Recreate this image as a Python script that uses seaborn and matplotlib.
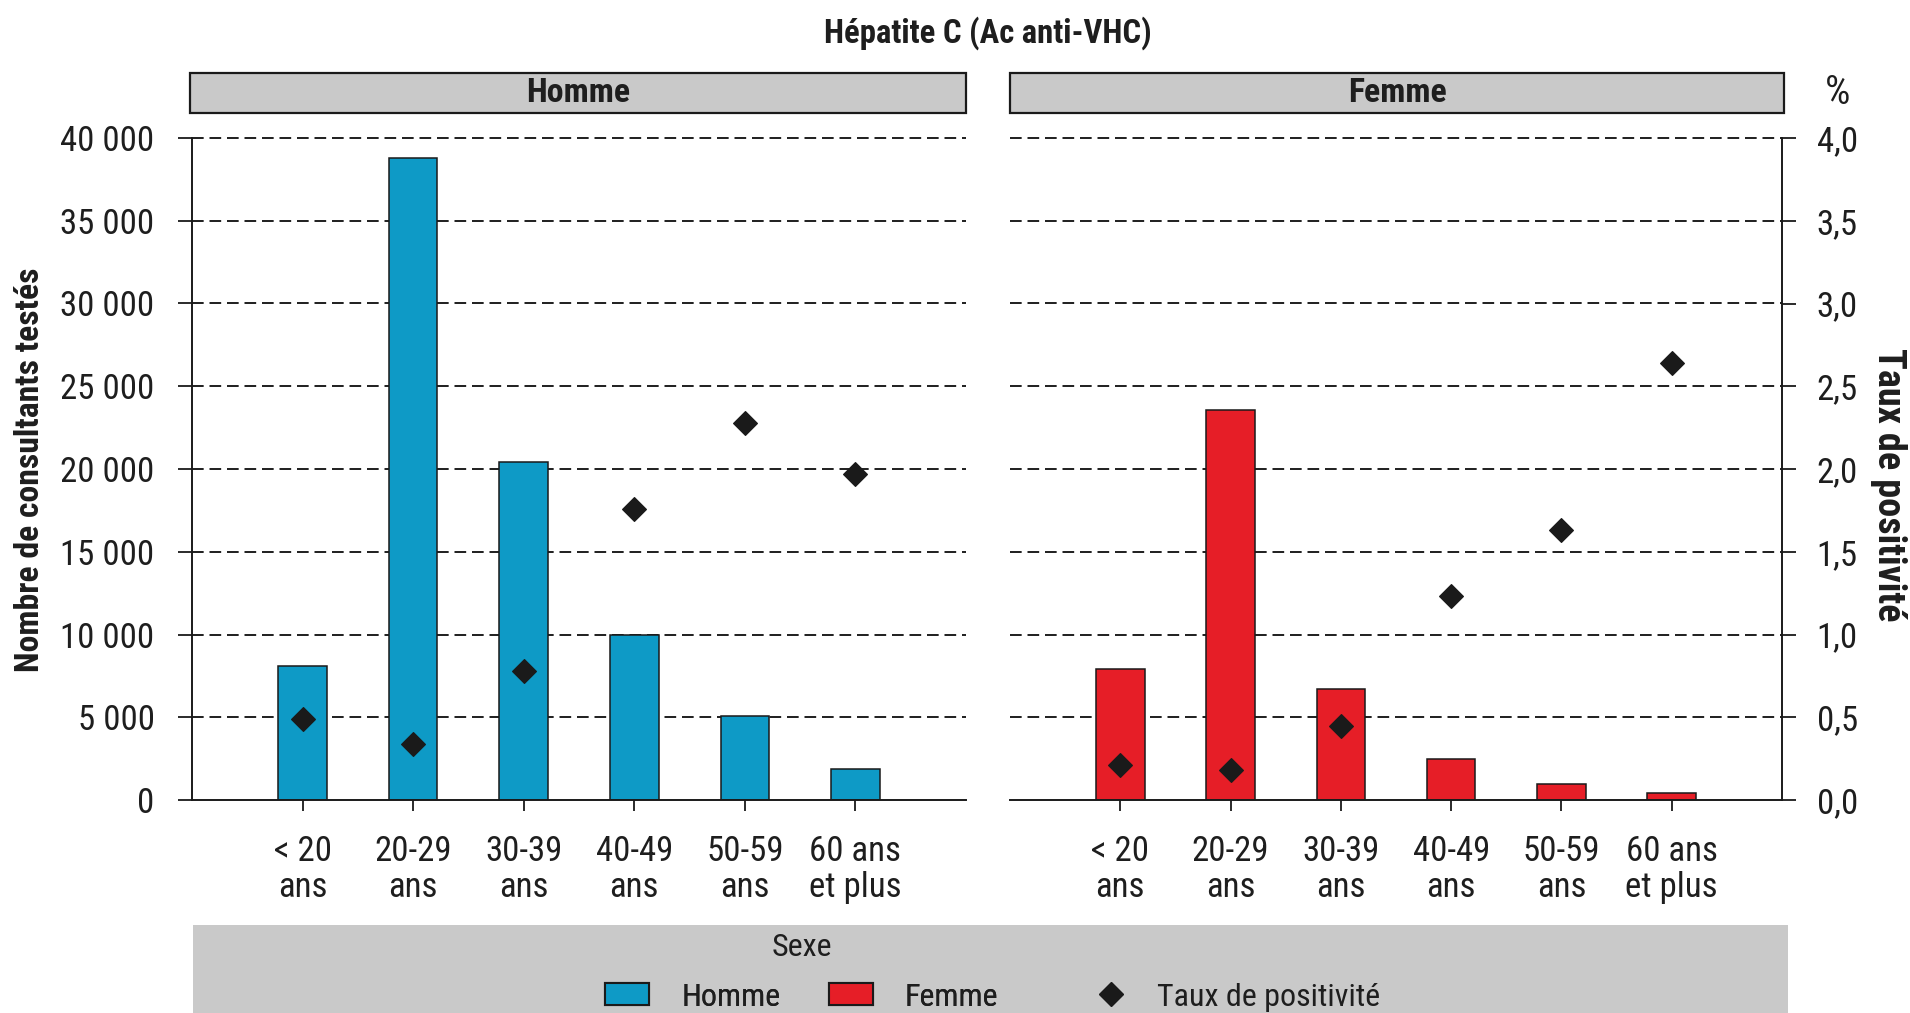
import numpy as np
import pandas as pd
import matplotlib
matplotlib.use("Agg")
import matplotlib.pyplot as plt
import seaborn as sns
from matplotlib.patches import Patch, Rectangle
from matplotlib.lines import Line2D
from matplotlib.ticker import FuncFormatter, FixedLocator

# ---------------- data ----------------
age_labels = ["< 20\nans", "20-29\nans", "30-39\nans", "40-49\nans", "50-59\nans", "60 ans\net plus"]
homme_tests = [8100, 38800, 20400, 9950, 5050, 1900]
homme_taux = [0.49, 0.34, 0.78, 1.76, 2.28, 1.97]
femme_tests = [7940, 23580, 6690, 2500, 940, 450]
femme_taux = [0.21, 0.18, 0.45, 1.23, 1.63, 2.64]
sexes = ["Homme", "Femme"]
left_ticks = [0, 5000, 10000, 15000, 20000, 25000, 30000, 35000, 40000]
right_ticks = [0.0, 0.5, 1.0, 1.5, 2.0, 2.5, 3.0, 3.5, 4.0]

title = "Hépatite C (Ac anti-VHC)"
ylabel_left = "Nombre de consultants testés"
ylabel_right = "Taux de positivité"
legend_title = "Sexe"
legend_labels = ["Homme", "Femme", "Taux de positivité"]

df = pd.DataFrame({
    "sexe": [sexes[0]] * 6 + [sexes[1]] * 6,
    "age": age_labels * 2,
    "tests": homme_tests + femme_tests,
    "taux": homme_taux + femme_taux,
})

# ---------------- style ----------------
sns.set_theme(style="white")
plt.rcParams["font.family"] = ["Roboto Condensed", "DejaVu Sans"]
plt.rcParams["font.stretch"] = "condensed"
TXT = "#1e1e1e"
BLUE = "#0e9ac6"
RED = "#e61e27"
EDGE = "#1a1a1a"
GRAY = "#c9c9c9"
FS = 23
FS_TICK = 25

W, H = 1910, 1013
fig = plt.figure(figsize=(W / 100, H / 100), dpi=100)
fig.patch.set_facecolor("white")


def fx(px):
    return px / W


def fy(py):
    return 1 - py / H


ax_top, ax_bot = 138, 800
panels = [
    (sexes[0], BLUE, 192, 966, "left"),
    (sexes[1], RED, 1010, 1782, "right"),
]

fmt_left = FuncFormatter(lambda v, p: f"{int(round(v)):,}".replace(",", " "))
fmt_right = FuncFormatter(lambda v, p: f"{v:.1f}".replace(".", ","))

for sexe, color, x0, x1, side in panels:
    sub = df[df["sexe"] == sexe]
    ax = fig.add_axes([fx(x0), fy(ax_bot), fx(x1 - x0), (ax_bot - ax_top) / H])
    ax.set_facecolor("white")
    sns.barplot(data=sub, x="age", y="tests", color=color, saturation=1,
                width=0.44, edgecolor=EDGE, linewidth=1.1, ax=ax, zorder=2)
    ax.set_ylim(0, 40000)
    for yv in left_ticks[1:]:
        ax.axhline(yv, color=TXT, lw=1.4, ls=(0, (6, 3)), zorder=0.5, clip_on=False)

    ax2 = ax.twinx()
    sns.pointplot(data=sub, x="age", y="taux", color=EDGE, marker="D",
                  markersize=12.5, markeredgewidth=0.8, linestyle="none",
                  errorbar=None, ax=ax2)
    ax2.set_ylim(0, 4)
    ax.set_xlim(-1, 6)
    ax.set_xlabel("")
    ax.set_ylabel("")
    ax2.set_ylabel("")

    for a in (ax, ax2):
        for s in a.spines.values():
            s.set_visible(False)
    ax.spines["bottom"].set_visible(True)
    ax.spines["bottom"].set_color(EDGE)
    ax.spines["bottom"].set_linewidth(1.4)

    ax.set_xticks(range(len(age_labels)))
    ax.set_xticklabels(age_labels)
    ax.tick_params(axis="x", bottom=True, direction="out", length=8, width=1.3,
                   color=EDGE, pad=17, labelsize=FS_TICK, labelcolor=TXT)
    for t in ax.get_xticklabels():
        t.set_linespacing(1.12)

    if side == "left":
        ax.spines["left"].set_visible(True)
        ax.spines["left"].set_color(EDGE)
        ax.spines["left"].set_linewidth(1.4)
        ax.yaxis.set_major_locator(FixedLocator(left_ticks))
        ax.yaxis.set_major_formatter(fmt_left)
        ax.tick_params(axis="y", left=True, direction="out", length=10, width=1.3,
                       color=EDGE, pad=17, labelsize=FS_TICK, labelcolor=TXT)
        ax2.tick_params(axis="y", right=False, labelright=False)
    else:
        ax.tick_params(axis="y", left=False, labelleft=False)
        ax2.spines["right"].set_visible(True)
        ax2.spines["right"].set_color(EDGE)
        ax2.spines["right"].set_linewidth(1.4)
        ax2.yaxis.set_major_locator(FixedLocator(right_ticks))
        ax2.yaxis.set_major_formatter(fmt_right)
        ax2.tick_params(axis="y", right=True, direction="out", length=10, width=1.3,
                        color=EDGE, pad=15, labelsize=FS_TICK, labelcolor=TXT)

    # facet strip
    sx0 = x0 - 2 if side == "left" else x0
    sx1 = x1 if side == "left" else x1 + 2
    fig.patches.append(Rectangle((fx(sx0), fy(113)), fx(sx1 - sx0), 40 / H,
                                 transform=fig.transFigure, facecolor=GRAY,
                                 edgecolor=EDGE, linewidth=1.6, zorder=1))
    fig.text(fx((sx0 + sx1) / 2), fy(93), sexe, ha="center", va="center",
             fontsize=24.4, fontweight="bold", color=TXT)

# title and axis labels
fig.text(fx(988), fy(33), title, ha="center", va="center", fontsize=23.6,
         fontweight="bold", color=TXT)
fig.text(fx(30), fy(470), ylabel_left, rotation=90, ha="center", va="center",
         fontsize=24.3, fontweight="bold", color=TXT)
fig.text(fx(1888), fy(485), ylabel_right, rotation=270, ha="center", va="center",
         fontsize=27.5, fontweight="bold", color=TXT)
fig.text(fx(1838), fy(92), "%", ha="center", va="center", fontsize=29, color=TXT)

# legend panel
fig.patches.append(Rectangle((fx(193), 0), fx(1788 - 193), fy(925),
                             transform=fig.transFigure, facecolor=GRAY,
                             edgecolor="none", zorder=0))
fig.text(fx(802), fy(947), legend_title, ha="center", va="center", fontsize=FS, color=TXT)

h_patches = [Patch(facecolor=BLUE, edgecolor=EDGE, linewidth=1.5),
             Patch(facecolor=RED, edgecolor=EDGE, linewidth=1.5)]
h_dia = [Line2D([0], [0], marker="D", color=EDGE, linestyle="none", markersize=12.5)]
leg1 = fig.legend(h_patches, legend_labels[:2], loc="center left",
                  bbox_to_anchor=(fx(605), fy(997)), ncol=2, frameon=False,
                  fontsize=FS, handlelength=1.38, handleheight=0.68,
                  handletextpad=1.0, columnspacing=1.52, borderpad=0,
                  borderaxespad=0, labelcolor=TXT)
leg2 = fig.legend(h_dia, legend_labels[2:], loc="center left",
                  bbox_to_anchor=(fx(1089), fy(997)), frameon=False,
                  fontsize=FS, handlelength=1.38, handletextpad=0.75,
                  borderpad=0, borderaxespad=0, labelcolor=TXT)
fig.add_artist(leg1)

fig.savefig("out.png", dpi=100)
